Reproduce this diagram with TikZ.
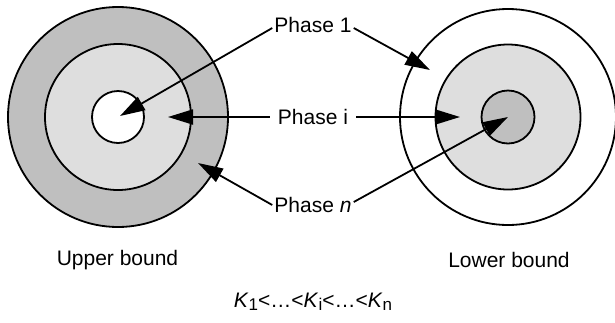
\documentclass[tikz,border=0pt]{standalone}
\usepackage{fontspec}
\setmainfont{Liberation Sans}
\usetikzlibrary{arrows.meta}
\definecolor{darkfill}{RGB}{191,191,191}
\definecolor{lightfill}{RGB}{222,222,222}
\newcommand{\mysub}[1]{\raisebox{-3.5pt}{\fontsize{17}{20}\selectfont #1}}
\begin{document}
\begin{tikzpicture}[x=1pt,y=-1pt,
  ring/.style={circle,draw,line width=1.8pt,inner sep=0pt,minimum size=#1},
  lbl/.style={font=\fontsize{21}{25}\selectfont,inner sep=2pt},
  arr/.style={line width=1.8pt,-{Triangle[length=25pt,width=15pt]}}]
\useasboundingbox (0,0) rectangle (615,322);
% left: upper bound
\node[ring=220pt,fill=darkfill] (Lo) at (118,117) {};
\node[ring=146pt,fill=lightfill] (Lm) at (118,117) {};
\node[ring=52pt,fill=white] (Li) at (118,117) {};
% right: lower bound
\node[ring=216pt,fill=white] (Ro) at (508,117) {};
\node[ring=145pt,fill=lightfill] (Rm) at (508,117) {};
\node[ring=53pt,fill=darkfill] (Ri) at (508,117) {};
% labels
\node[lbl] (p1) at (313,25) {Phase 1};
\node[lbl] (pi) at (313,117) {Phase i};
\node[lbl] (pn) at (313,205) {Phase \textit{n}};
\node[lbl] (ub) at (117.5,260) {Upper bound};
\node[lbl] (lb) at (509,260) {Lower bound};
\node[lbl] (kk) at (313,302) {\textit{K}\mysub{1}<…<\textit{K}\mysub{i}<…<\textit{K}\mysub{n}};
% arrow targets
\coordinate (t1) at (120,116);
\coordinate (t2) at (430,70);
\coordinate (t3) at (168,117);
\coordinate (t4) at (460,117);
\coordinate (t5) at (198,163);
\coordinate (t6) at (508,117);
\draw[arr] ([yshift=-3pt]p1.west) -- (t1);
\draw[arr] ([yshift=-3pt]p1.east) -- (t2);
\draw[arr] ([xshift=-6pt]pi.west) -- (t3);
\draw[arr] ([xshift=6pt]pi.east) -- (t4);
\draw[arr] (pn.west) -- (t5);
\draw[arr] ([yshift=3pt]pn.east) -- (t6);
\end{tikzpicture}
\end{document}
